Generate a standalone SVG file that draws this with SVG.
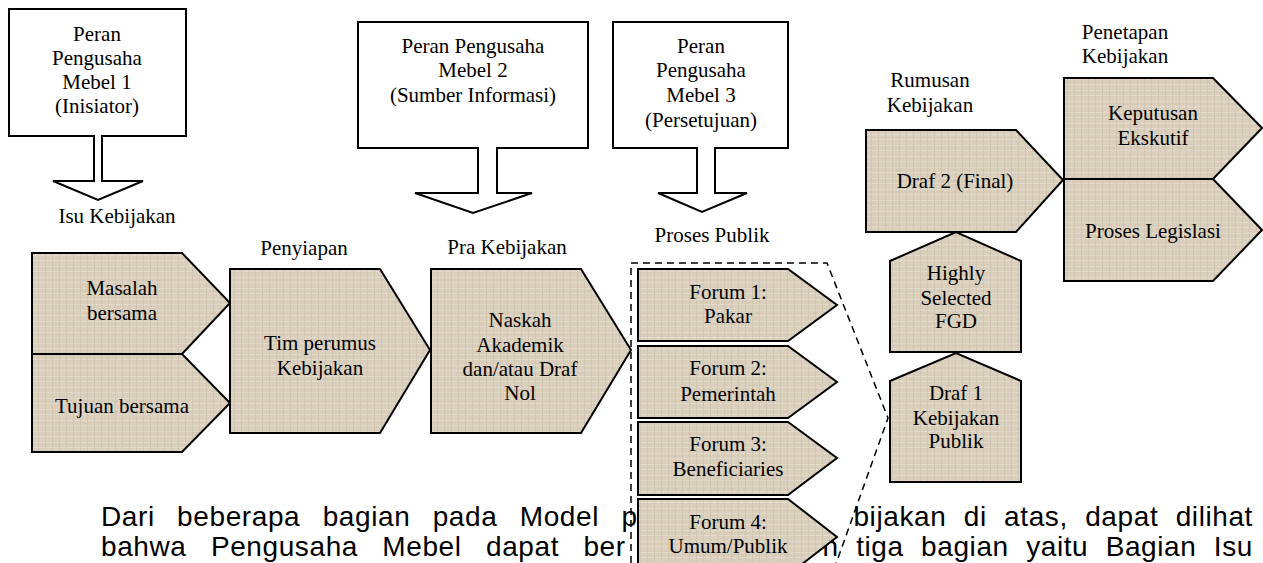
<svg xmlns="http://www.w3.org/2000/svg" width="1263" height="563" viewBox="0 0 1263 563">
<defs>
<pattern id="tex" width="14" height="11" patternUnits="userSpaceOnUse">
<rect width="14" height="11" fill="#d9cfbc"/>
<path d="M0,2.5 H14 M0,7.5 H14" stroke="#e3dacb" stroke-width="1"/>
<path d="M3.5,0 V11 M10.5,0 V11" stroke="#cfc4ae" stroke-width="0.8"/>
<path d="M0,5 H6" stroke="#cdc1aa" stroke-width="0.6"/>
</pattern>
</defs>
<style>
.box{fill:#fff;stroke:#000;stroke-width:2}
.sh{fill:url(#tex);stroke:#000;stroke-width:2;stroke-linejoin:miter}
.t{font-family:"Liberation Serif","Times New Roman",serif;font-size:21px;fill:#000;text-anchor:middle}
.p{font-family:"Liberation Sans",Arial,sans-serif;font-size:28px;fill:#000;letter-spacing:0.6px}
.dash{fill:none;stroke:#000;stroke-width:1.5;stroke-dasharray:7 5}
</style>
<g id="paragraph">
<text class="p" x="101" y="526" word-spacing="14">Dari beberapa bagian pada Model p</text>
<text class="p" x="1253" y="526" word-spacing="9" text-anchor="end">bijakan di atas, dapat dilihat</text>
<text class="p" x="101" y="556" word-spacing="16">bahwa Pengusaha Mebel dapat ber</text>
<text class="p" x="1253" y="556" word-spacing="9" text-anchor="end">n tiga bagian yaitu Bagian Isu</text>
</g>
<g id="callout1">
<path class="box" d="M9,9 H186 V136 H102 V181 H143 L98,200 L53,181 H94 V136 H9 Z"/>
<text class="t" x="97" y="41">Peran</text>
<text class="t" x="97" y="65">Pengusaha</text>
<text class="t" x="97" y="89">Mebel 1</text>
<text class="t" x="97" y="113">(Inisiator)</text>
</g>
<g id="callout2">
<path class="box" d="M358,22 H588 V148 H497 V193 H532 L473,213 L415,193 H478 V148 H358 Z"/>
<text class="t" x="473" y="53">Peran Pengusaha</text>
<text class="t" x="473" y="77">Mebel 2</text>
<text class="t" x="473" y="102">(Sumber Informasi)</text>
</g>
<g id="callout3">
<path class="box" d="M613,22 H788 V148 H715 V193 H747 L702,212 L658,193 H697 V148 H613 Z"/>
<text class="t" x="701" y="53">Peran</text>
<text class="t" x="701" y="77">Pengusaha</text>
<text class="t" x="701" y="102">Mebel 3</text>
<text class="t" x="701" y="127">(Persetujuan)</text>
</g>
<g id="labels">
<text class="t" x="117" y="223">Isu Kebijakan</text>
<text class="t" x="304" y="255">Penyiapan</text>
<text class="t" x="507" y="254">Pra Kebijakan</text>
<text class="t" x="712" y="242">Proses Publik</text>
<text class="t" x="930" y="87">Rumusan</text>
<text class="t" x="930" y="112">Kebijakan</text>
<text class="t" x="1125" y="39">Penetapan</text>
<text class="t" x="1125" y="63">Kebijakan</text>
</g>
<g id="masalah">
<path class="sh" d="M32,253 H182 L230,303 L182,354 H32 Z"/>
<text class="t" x="122" y="295">Masalah</text>
<text class="t" x="122" y="320">bersama</text>
</g>
<g id="tujuan">
<path class="sh" d="M32,354 H182 L230,403 L182,452 H32 Z"/>
<text class="t" x="122" y="413">Tujuan bersama</text>
</g>
<g id="tim">
<path class="sh" d="M230,269 H380 L430,350 L380,433 H230 Z"/>
<text class="t" x="320" y="350">Tim perumus</text>
<text class="t" x="320" y="375">Kebijakan</text>
</g>
<g id="naskah">
<path class="sh" d="M431,269 H581 L631,350 L581,433 H431 Z"/>
<text class="t" x="520" y="327">Naskah</text>
<text class="t" x="520" y="352">Akademik</text>
<text class="t" x="520" y="376">dan/atau Draf</text>
<text class="t" x="520" y="400">Nol</text>
</g>
<g id="forum1">
<path class="sh" d="M638,269 H788 L837,305 L788,341 H638 Z"/>
<text class="t" x="728" y="299">Forum 1:</text>
<text class="t" x="728" y="323">Pakar</text>
</g>
<g id="forum2">
<path class="sh" d="M638,346 H788 L837,382 L788,418 H638 Z"/>
<text class="t" x="728" y="375">Forum 2:</text>
<text class="t" x="728" y="401">Pemerintah</text>
</g>
<g id="forum3">
<path class="sh" d="M638,422 H788 L837,458 L788,495 H638 Z"/>
<text class="t" x="728" y="451">Forum 3:</text>
<text class="t" x="728" y="476">Beneficiaries</text>
</g>
<g id="forum4">
<path class="sh" d="M638,499 H788 L837,537 L788,575 H638 Z"/>
<text class="t" x="728" y="529">Forum 4:</text>
<text class="t" x="728" y="553">Umum/Publik</text>
</g>
<g id="draf2">
<path class="sh" d="M866,130 H1016 L1063,180 L1016,232 H866 Z"/>
<text class="t" x="955" y="188">Draf 2 (Final)</text>
</g>
<g id="keputusan">
<path class="sh" d="M1064,78 H1213 L1262,128 L1213,179 H1064 Z"/>
<text class="t" x="1153" y="120">Keputusan</text>
<text class="t" x="1153" y="145">Ekskutif</text>
</g>
<g id="legislasi">
<path class="sh" d="M1064,179 H1213 L1262,230 L1213,281 H1064 Z"/>
<text class="t" x="1153" y="238">Proses Legislasi</text>
</g>
<g id="fgd">
<path class="sh" d="M890,352 V261 L956,232 L1021,261 V352 Z"/>
<text class="t" x="956" y="280">Highly</text>
<text class="t" x="956" y="305">Selected</text>
<text class="t" x="956" y="328">FGD</text>
</g>
<g id="draf1">
<path class="sh" d="M890,482 V381 L956,353 L1021,381 V482 Z"/>
<text class="t" x="956" y="400">Draf 1</text>
<text class="t" x="956" y="425">Kebijakan</text>
<text class="t" x="956" y="448">Publik</text>
</g>
<g id="connectors">
<path class="dash" d="M631,575 V263 H827 L888,418 L832,575"/>
</g>
</svg>
